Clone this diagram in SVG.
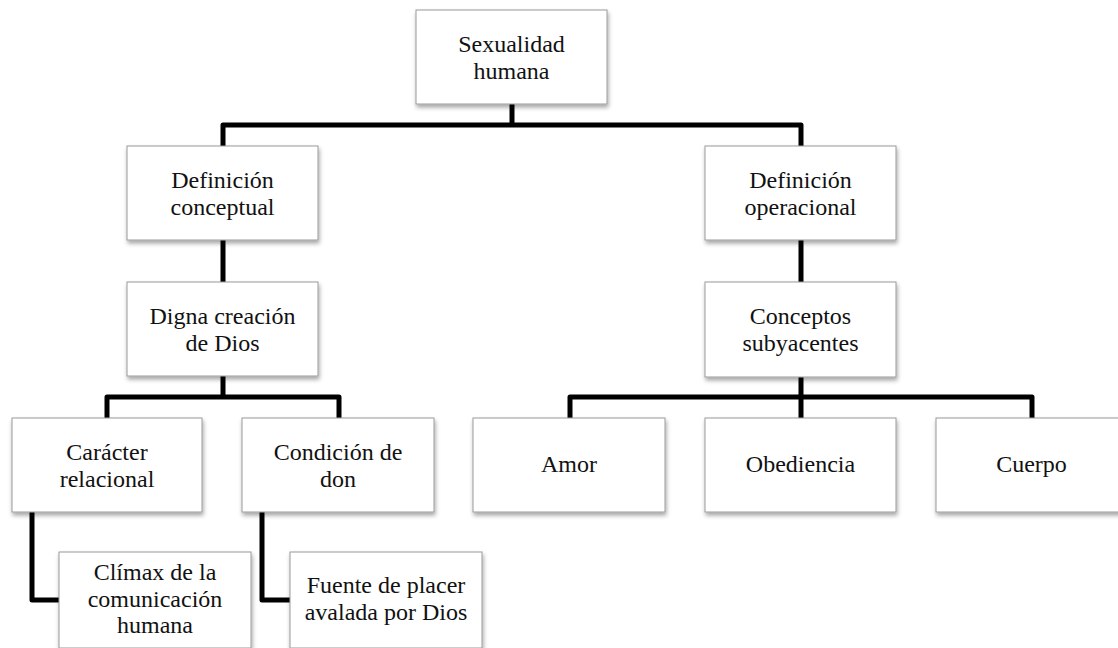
<svg xmlns="http://www.w3.org/2000/svg" width="1118" height="648" viewBox="0 0 1118 648">
<defs>
<filter id="sh" x="-10%" y="-10%" width="130%" height="130%">
<feDropShadow dx="1" dy="3" stdDeviation="2" flood-color="#000" flood-opacity="0.35"/>
</filter>
</defs>
<style>
.box{fill:#fff;stroke:#9a9a9a;stroke-width:1;filter:url(#sh)}
.t{font-family:"Liberation Serif","Times New Roman",serif;font-size:24px;fill:#111;text-anchor:middle}
.c{fill:none;stroke:#000;stroke-width:5;stroke-linejoin:round}
</style>
<rect width="1118" height="648" fill="#fff"/>
<g id="connectors">
<path class="c" d="M512,104 V125 M223,146 V125 H801 V146"/>
<path class="c" d="M223,240 V282"/>
<path class="c" d="M801,240 V282"/>
<path class="c" d="M223,376 V397 M107,418 V397 H339 V418"/>
<path class="c" d="M801,377 V418 M570,418 V397 H1032 V418"/>
<path class="c" d="M32,512 V600 H59"/>
<path class="c" d="M262,512 V600 H290"/>
</g>
<g id="n_sexualidad"><rect class="box" x="416" y="10" width="191" height="94"/><text class="t" x="511.5" y="52">Sexualidad</text><text class="t" x="511.5" y="79">humana</text></g>
<g id="n_def_conceptual"><rect class="box" x="127" y="146" width="191" height="94"/><text class="t" x="222.5" y="188">Definición</text><text class="t" x="222.5" y="215">conceptual</text></g>
<g id="n_def_operacional"><rect class="box" x="705" y="146" width="191" height="94"/><text class="t" x="800.5" y="188">Definición</text><text class="t" x="800.5" y="215">operacional</text></g>
<g id="n_digna"><rect class="box" x="127" y="282" width="191" height="94"/><text class="t" x="222.5" y="324">Digna creación</text><text class="t" x="222.5" y="351">de Dios</text></g>
<g id="n_conceptos"><rect class="box" x="705" y="282" width="191" height="95"/><text class="t" x="800.5" y="324">Conceptos</text><text class="t" x="800.5" y="351">subyacentes</text></g>
<g id="n_caracter"><rect class="box" x="12" y="418" width="190" height="94"/><text class="t" x="107" y="460">Carácter</text><text class="t" x="107" y="487">relacional</text></g>
<g id="n_condicion"><rect class="box" x="242" y="418" width="192" height="94"/><text class="t" x="338" y="460">Condición de</text><text class="t" x="338" y="487">don</text></g>
<g id="n_amor"><rect class="box" x="473" y="418" width="192" height="94"/><text class="t" x="569" y="472">Amor</text></g>
<g id="n_obediencia"><rect class="box" x="705" y="418" width="191" height="94"/><text class="t" x="800.5" y="472">Obediencia</text></g>
<g id="n_cuerpo"><rect class="box" x="936" y="418" width="191" height="94"/><text class="t" x="1031.5" y="472">Cuerpo</text></g>
<g id="n_climax"><rect class="box" x="59" y="552" width="192" height="96"/><text class="t" x="155" y="580">Clímax de la</text><text class="t" x="155" y="607">comunicación</text><text class="t" x="155" y="633">humana</text></g>
<g id="n_fuente"><rect class="box" x="290" y="552" width="192" height="96"/><text class="t" x="386" y="593">Fuente de placer</text><text class="t" x="386" y="620">avalada por Dios</text></g>
</svg>
